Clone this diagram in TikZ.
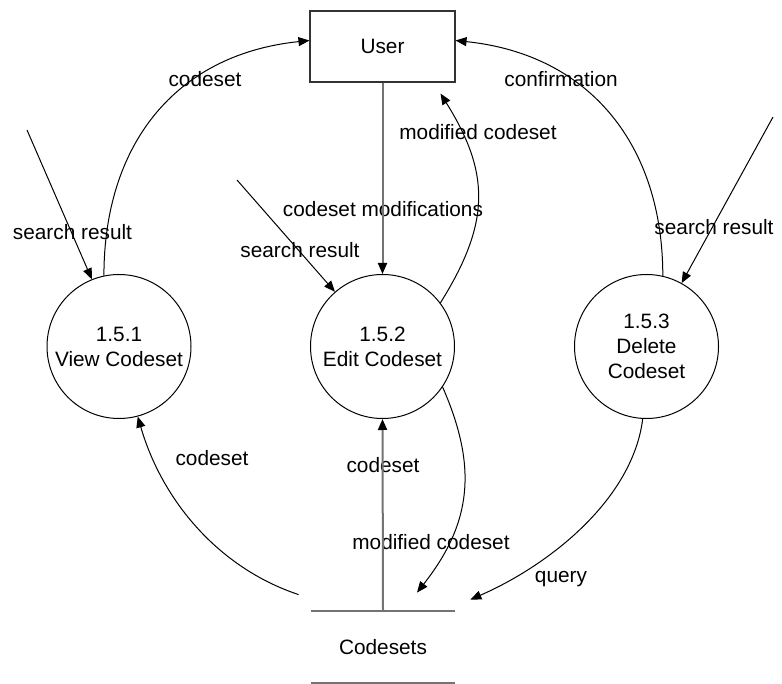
\documentclass[tikz,border=0pt]{standalone}
\usepackage{fontspec}
\setmainfont{Liberation Sans}
\usetikzlibrary{arrows.meta,positioning}

\begin{document}
\begin{tikzpicture}[x=0.5pt,y=-0.5pt,
    every node/.style={font=\fontsize{10.4}{12.5}\selectfont,inner sep=0pt},
    proc/.style={draw,circle,minimum size=72pt,align=center,line width=0.5pt},
    flow/.style={-{Triangle[length=5.5pt,width=4.5pt,color=black]},line width=0.5pt},
    gflow/.style={flow,draw=black!55,line width=1pt}]
    \useasboundingbox (0,0) rectangle (782,684);
    \node[draw=black!80,line width=0.55pt,minimum width=72.5pt,minimum height=35.5pt] (user) at (382.5,46.5) {User};
    \node[proc] (view) at (119,346.5) {1.5.1\\View Codeset};
    \node[proc] (edit) at (382.5,346.5) {1.5.2\\Edit Codeset};
    \node[proc] (del) at (646.5,346.5) {1.5.3\\Delete\\Codeset};
    \node[minimum width=72pt,minimum height=36pt] (store) at (383,647) {Codesets};
    \coordinate (s1) at (27,130);
    \coordinate (s2) at (237,180);
    \coordinate (s3) at (773,117);

    \node (l1) at (205,79) {codeset};
    \node (l2) at (72.5,232) {search result};
    \node (l3) at (300,250) {search result};
    \node (l4) at (383,209) {codeset modifications};
    \node (l5) at (478,132) {modified codeset};
    \node (l6) at (561,79) {confirmation};
    \node (l7) at (714,227) {search result};
    \node (l8) at (212,458) {codeset};
    \node (l9) at (383,465) {codeset};
    \node (l10) at (431,542) {modified codeset};
    \node (l11) at (561,579) {query};

    \draw[draw=black!55,line width=1pt]
    (store.north west) -- (store.north east)
    (store.south west) -- (store.south east);
    \draw[gflow] (user.south) -- (edit.north);
    \draw[gflow] (store.north) -- (edit.south);
    \draw[flow] (s1) -- (view.112);
    \draw[flow] (s2) -- (edit.131);
    \draw[flow] (s3) -- (del.61);
    \draw[flow] (view.102) .. controls +(0,-130) and +(-135,14) .. ([yshift=3pt]user.west);
    \draw[flow] (del.77) .. controls +(0,-130) and +(135,14) .. ([yshift=3pt]user.east);
    \draw[flow] (edit.37) .. controls +(50,-80) and +(50,80) .. ([xshift=29pt,yshift=-5.5pt]user.south);
    \draw[flow] (edit.-34) .. controls +(35,80) and +(55,-70) .. ([xshift=17pt,yshift=9pt]store.north);
    \draw[flow] ([xshift=-6pt,yshift=8pt]store.north west) .. controls +(-81,-27) and +(24,83) .. (view.-75);
    \draw[flow] (del.-93) .. controls +(-10,80) and +(80,-35) .. ([xshift=7.5pt,yshift=5.5pt]store.north east);
\end{tikzpicture}
\end{document}
